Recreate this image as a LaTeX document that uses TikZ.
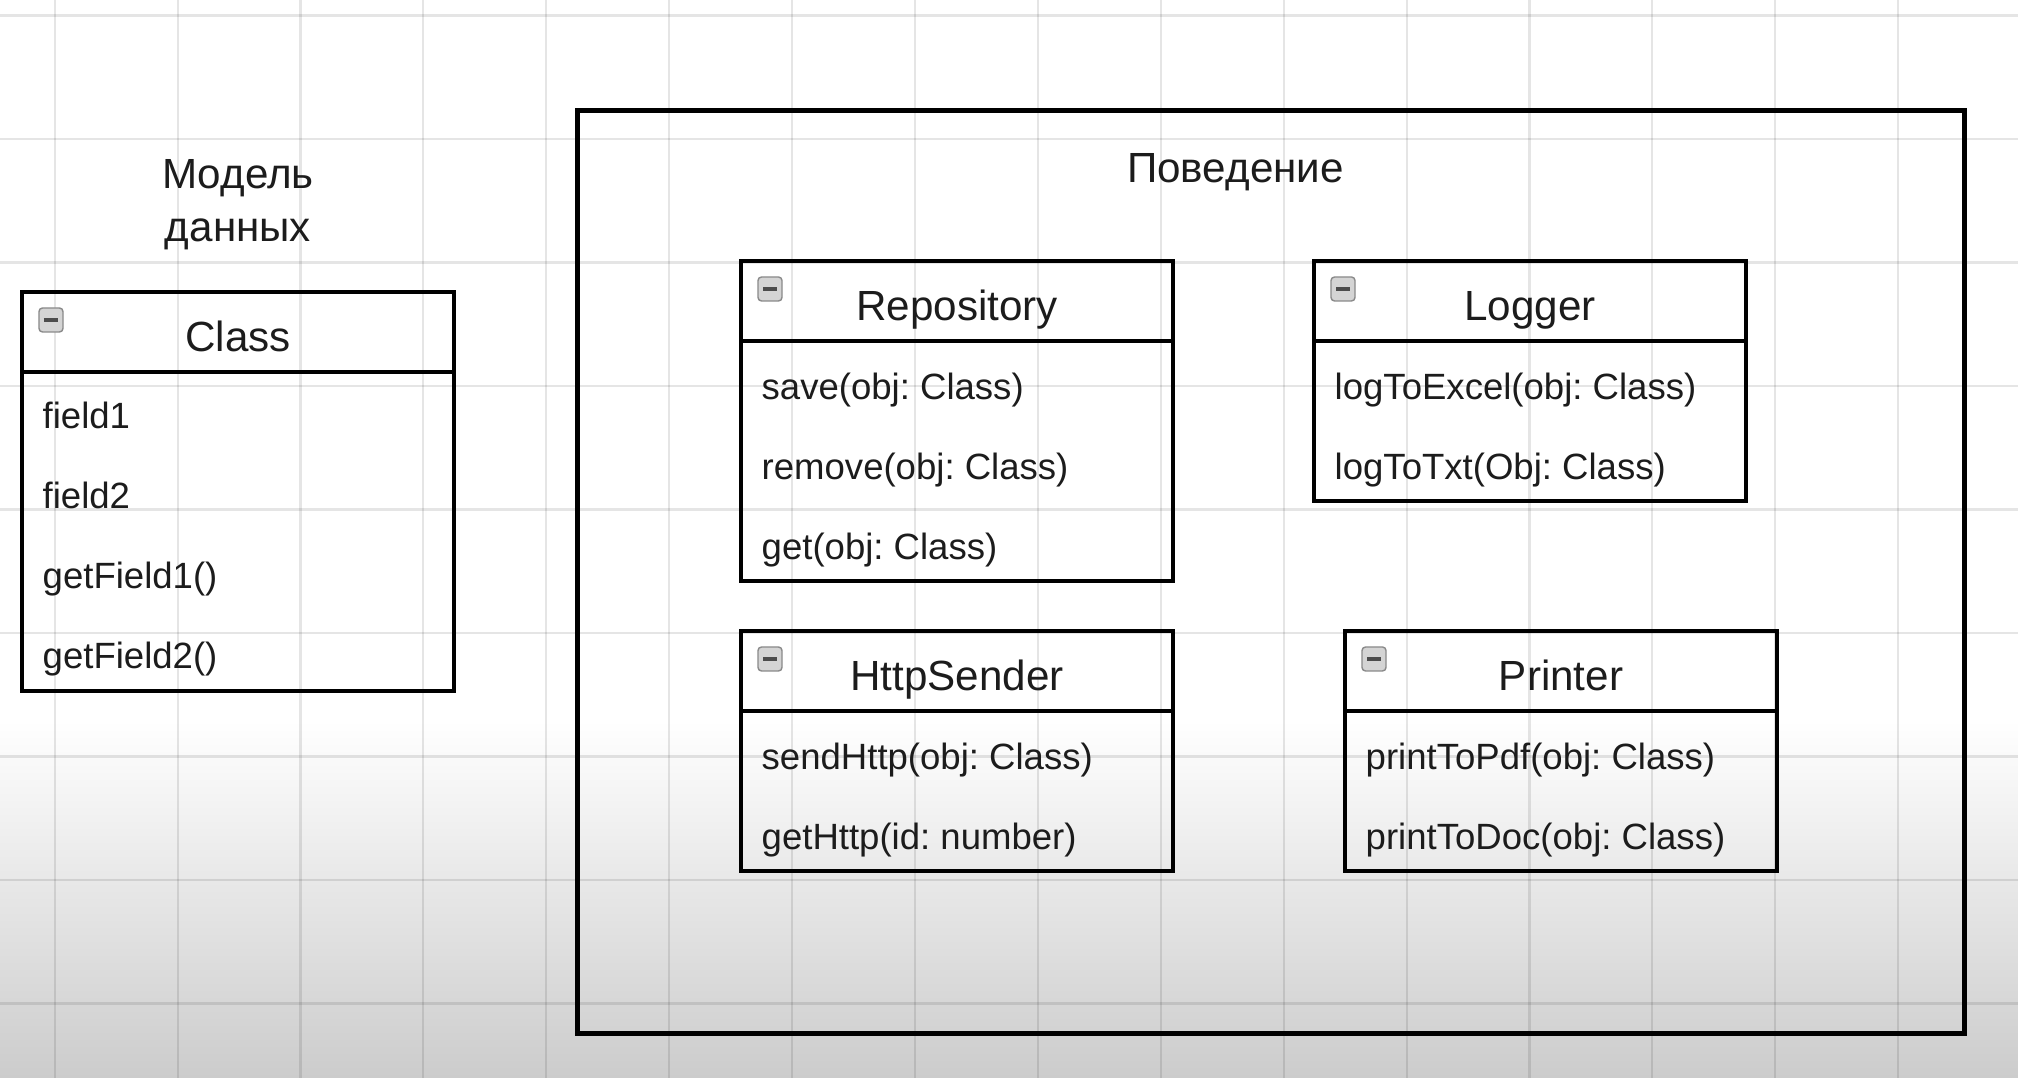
\documentclass[tikz,border=0pt]{standalone}
\usepackage{fontspec}
\setmainfont{Liberation Sans}
\frenchspacing
\usetikzlibrary{positioning, calc}
\definecolor{ink}{HTML}{1C1C1C}
\definecolor{iconfill}{HTML}{D4D4D4}
\definecolor{iconedge}{HTML}{8A8A8A}

\begin{document}
\begin{tikzpicture}[
  x=1cm, y=-1cm,
  header/.style={draw=black, line width=1.4pt, minimum width=4.32cm, minimum height=0.8cm,
                 anchor=north west, inner sep=0pt, outer sep=0pt, text height=11pt, text depth=0pt,
                 font=\fontsize{12}{14}\selectfont, text=ink},
  body/.style={draw=black, line width=1.4pt, minimum width=4.32cm, inner sep=0pt, outer sep=0pt},
  member/.style={anchor=west, inner sep=0pt, text height=8pt, text depth=2pt,
                 font=\fontsize{10.4}{12}\selectfont, text=ink},
  caption/.style={font=\fontsize{12}{15}\selectfont, text=ink, align=center},
  minusicon/.style={draw=iconedge, fill=iconfill, rounded corners=1pt, minimum size=0.24cm,
                    inner sep=0pt,
                    path picture={\draw[black!70, line width=0.9pt]
                      ([xshift=-0.07cm]path picture bounding box.center) --
                      ([xshift=0.07cm]path picture bounding box.center);}},
  gridln/.style={black, opacity=0.1, line width=0.6pt}
]
\useasboundingbox (0,0) rectangle (20.18,10.78);
\fill[white] (0,0) rectangle (20.18,10.78);
\shade[top color=white, bottom color=black!20] (0,7.2) rectangle (20.18,10.78);
\foreach \gx in {0,...,15} \draw[gridln] ({0.547+1.229*\gx},0) -- ({0.547+1.229*\gx},10.78);
\foreach \gy in {0,...,8} \draw[gridln] (0,{0.155+1.235*\gy}) -- (20.18,{0.155+1.235*\gy});

% data model
\node[caption] (modelcap) at (2.38,2.05) {Модель\\данных};

\node[header] (classHead) at (0.22,2.92) {Class};
\node[body, minimum height=3.19cm, below=0pt of classHead.south west, anchor=north west] (classBody) {};
\node[minusicon] (classIcon) at ($(classHead.north west)+(0.29,0.28)$) {};
\foreach \m [count=\i] in {field1, field2, getField1(), getField2()}
  \node[member] (class-\i) at ($(classBody.north west)+(0.2,{0.46+0.8*(\i-1)})$) {\m};

% behaviour
\node[draw=black, line width=1.4pt, minimum width=13.87cm, minimum height=9.23cm,
      anchor=north west, inner sep=0pt] (behaviour) at (5.753,1.081) {};
\node[caption] (behaviourcap) at (12.355,1.72) {Поведение};

\node[header] (repoHead) at (7.41,2.61) {Repository};
\node[body, minimum height=2.4cm, below=0pt of repoHead.south west, anchor=north west] (repoBody) {};
\node[minusicon] (repoIcon) at ($(repoHead.north west)+(0.29,0.28)$) {};
\foreach \m [count=\i] in {save(obj: Class), remove(obj: Class), get(obj: Class)}
  \node[member] (repo-\i) at ($(repoBody.north west)+(0.2,{0.48+0.8*(\i-1)})$) {\m};

\node[header] (logHead) at (13.14,2.61) {Logger};
\node[body, minimum height=1.6cm, below=0pt of logHead.south west, anchor=north west] (logBody) {};
\node[minusicon] (logIcon) at ($(logHead.north west)+(0.29,0.28)$) {};
\foreach \m [count=\i] in {logToExcel(obj: Class), logToTxt(Obj: Class)}
  \node[member] (log-\i) at ($(logBody.north west)+(0.2,{0.48+0.8*(\i-1)})$) {\m};

\node[header] (httpHead) at (7.41,6.31) {HttpSender};
\node[body, minimum height=1.6cm, below=0pt of httpHead.south west, anchor=north west] (httpBody) {};
\node[minusicon] (httpIcon) at ($(httpHead.north west)+(0.29,0.28)$) {};
\foreach \m [count=\i] in {sendHttp(obj: Class), getHttp(id: number)}
  \node[member] (http-\i) at ($(httpBody.north west)+(0.2,{0.48+0.8*(\i-1)})$) {\m};

\node[header] (printHead) at (13.45,6.31) {Printer};
\node[body, minimum height=1.6cm, below=0pt of printHead.south west, anchor=north west] (printBody) {};
\node[minusicon] (printIcon) at ($(printHead.north west)+(0.29,0.28)$) {};
\foreach \m [count=\i] in {printToPdf(obj: Class), printToDoc(obj: Class)}
  \node[member] (print-\i) at ($(printBody.north west)+(0.2,{0.48+0.8*(\i-1)})$) {\m};
\end{tikzpicture}
\end{document}
